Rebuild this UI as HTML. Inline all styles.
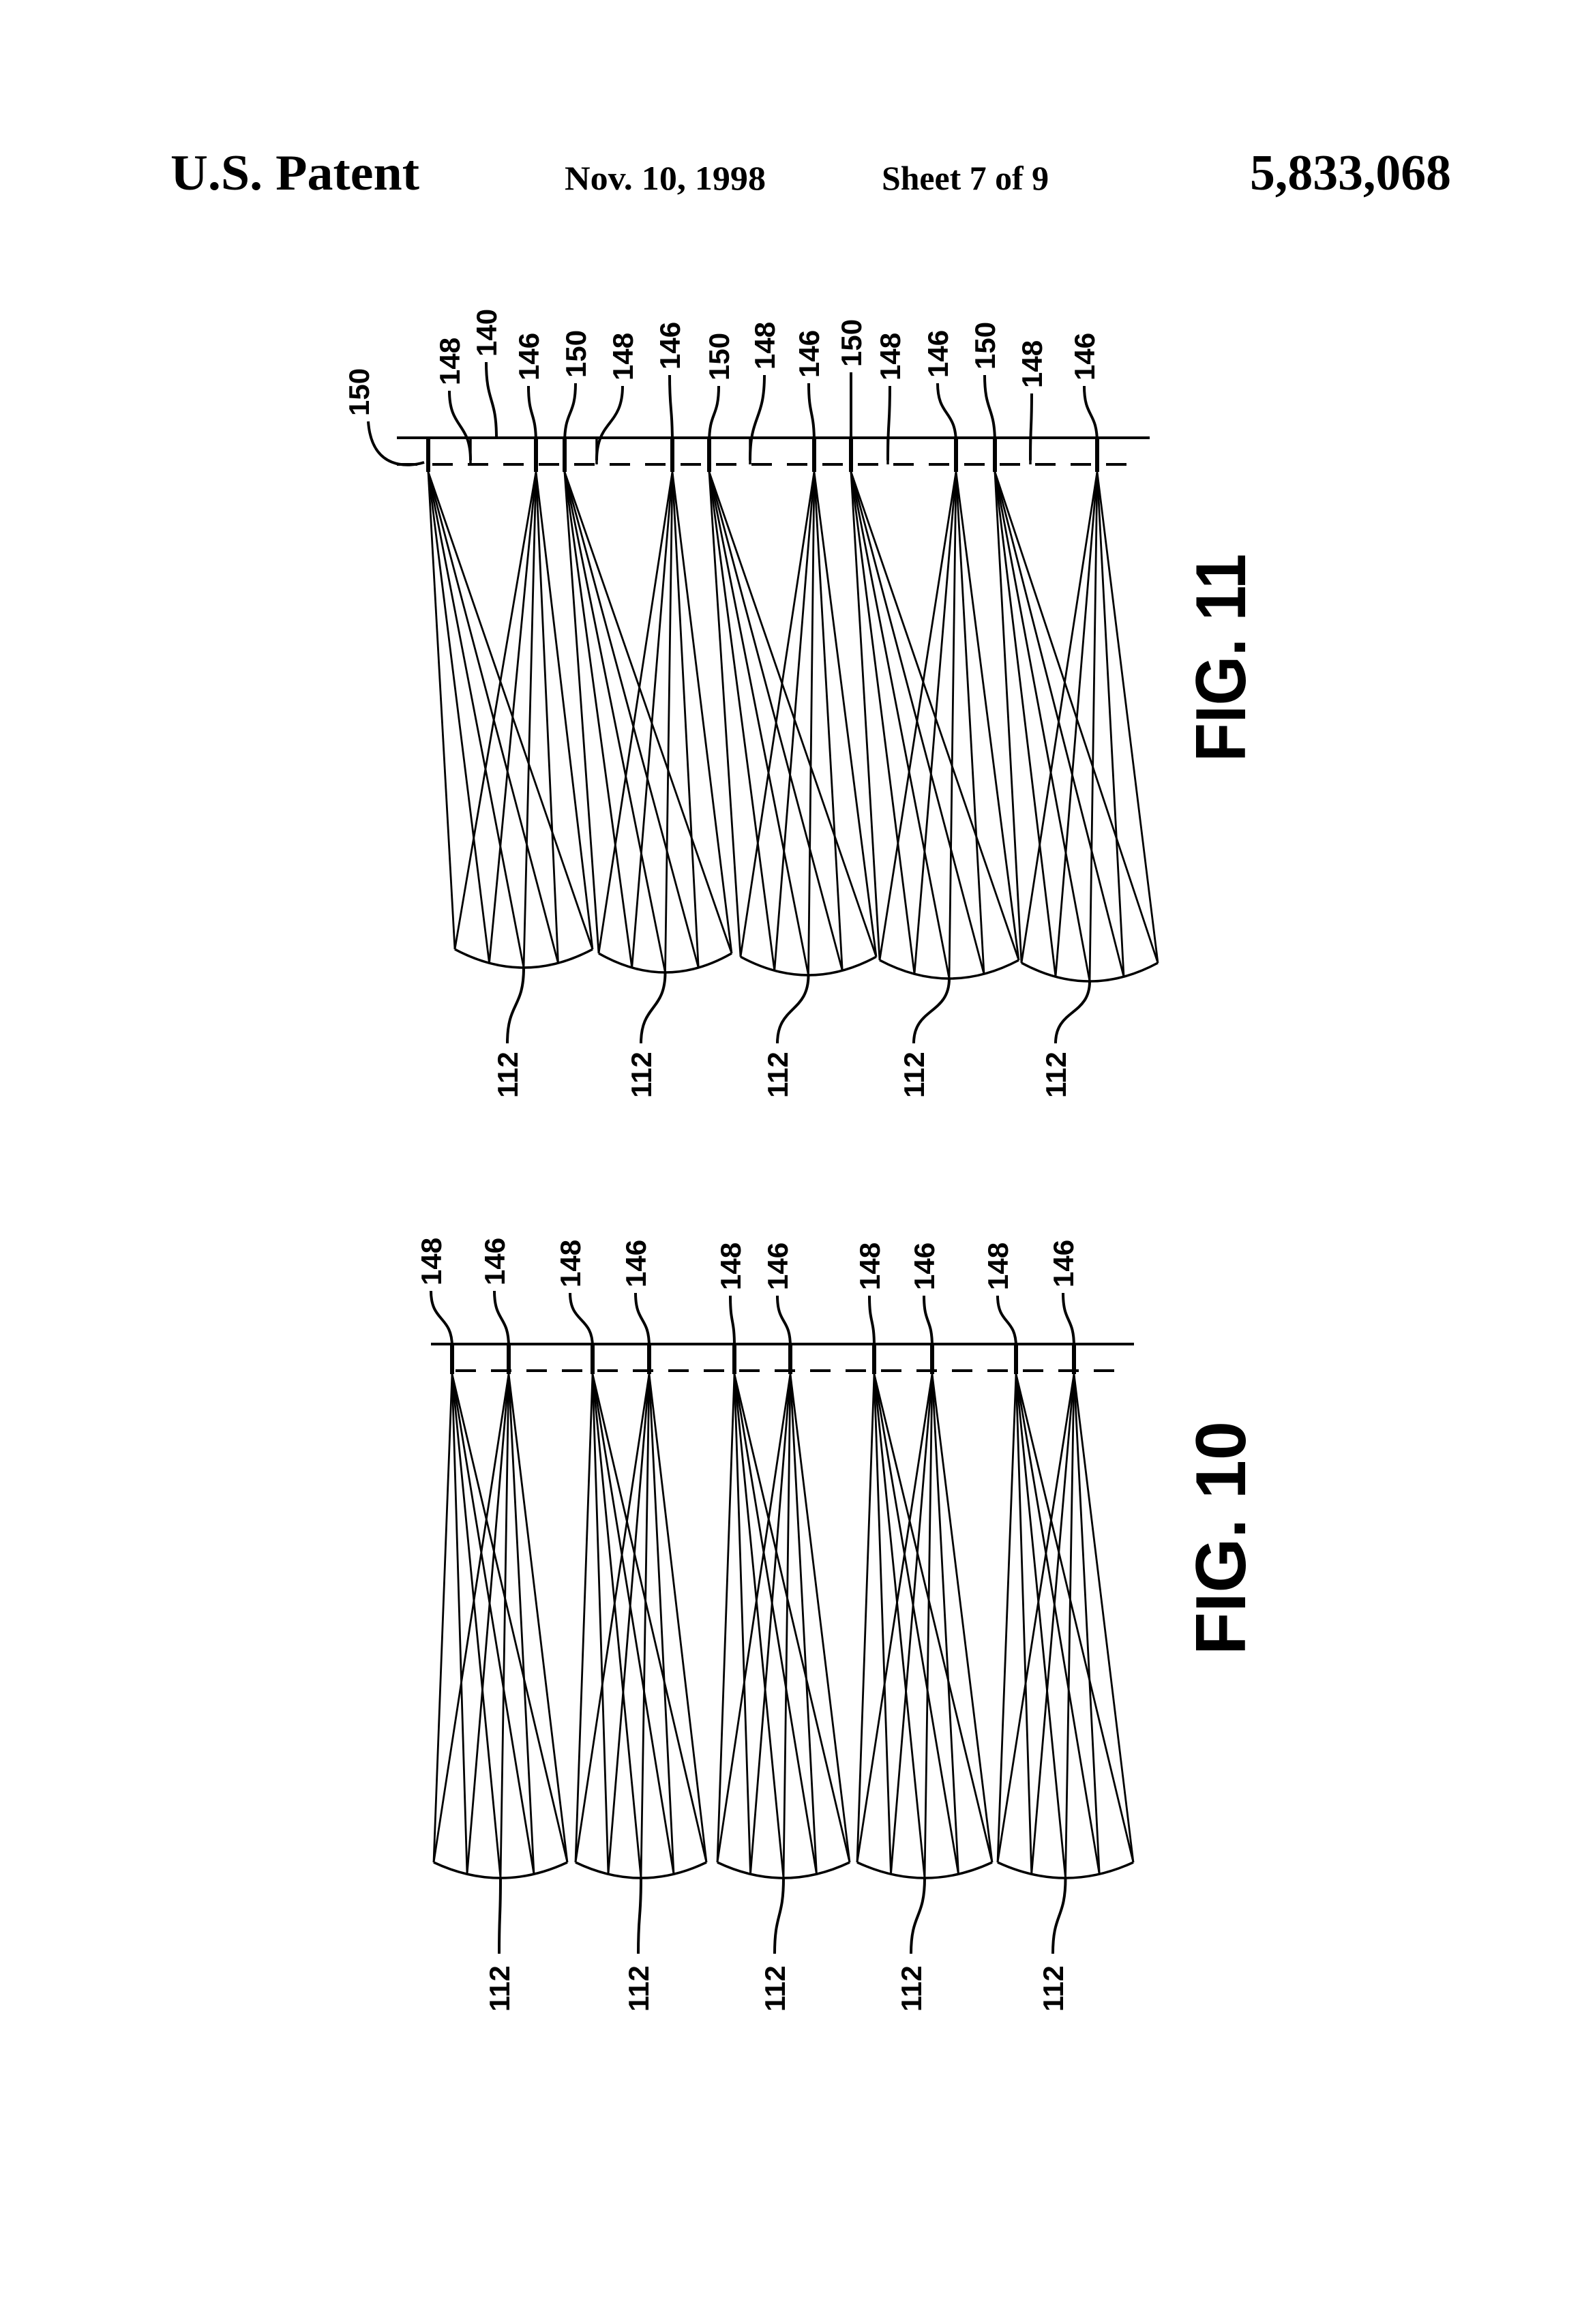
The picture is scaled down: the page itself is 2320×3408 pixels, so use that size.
<!DOCTYPE html>
<html><head><meta charset="utf-8"><style>
html,body{margin:0;padding:0;background:#fff;}
svg{display:block;}
.h{font-family:"Liberation Serif",serif;font-weight:bold;fill:#000;}
.l{font-family:"Liberation Sans",sans-serif;font-weight:bold;font-size:42px;fill:#000;}
.f{font-family:"Liberation Sans",sans-serif;font-weight:bold;font-size:104px;fill:#000;}
</style></head><body>
<svg id="s" width="2320" height="3408" viewBox="0 0 2320 3408" xmlns="http://www.w3.org/2000/svg">
<text class="h" x="250" y="278" font-size="74" textLength="365" lengthAdjust="spacingAndGlyphs">U.S. Patent</text>
<text class="h" x="828" y="278" font-size="50" textLength="295" lengthAdjust="spacingAndGlyphs">Nov. 10, 1998</text>
<text class="h" x="1293" y="278" font-size="50" textLength="245" lengthAdjust="spacingAndGlyphs">Sheet 7 of 9</text>
<text class="h" x="1833" y="278" font-size="74" textLength="295" lengthAdjust="spacingAndGlyphs">5,833,068</text>

<text class="f" transform="translate(1826,1117) rotate(-90)" textLength="305" lengthAdjust="spacingAndGlyphs">FIG. 11</text>
<text class="f" transform="translate(1826,2427) rotate(-90)" textLength="343" lengthAdjust="spacingAndGlyphs">FIG. 10</text>

<text class="l" transform="translate(674,565) rotate(-90)">148</text>
<text class="l" transform="translate(728,523) rotate(-90)">140</text>
<text class="l" transform="translate(790,558) rotate(-90)">146</text>
<text class="l" transform="translate(859,554) rotate(-90)">150</text>
<text class="l" transform="translate(928,558) rotate(-90)">148</text>
<text class="l" transform="translate(997,542) rotate(-90)">146</text>
<text class="l" transform="translate(1069,558) rotate(-90)">150</text>
<text class="l" transform="translate(1136,542) rotate(-90)">148</text>
<text class="l" transform="translate(1201,554) rotate(-90)">146</text>
<text class="l" transform="translate(1263,538) rotate(-90)">150</text>
<text class="l" transform="translate(1320,558) rotate(-90)">148</text>
<text class="l" transform="translate(1390,554) rotate(-90)">146</text>
<text class="l" transform="translate(1459,542) rotate(-90)">150</text>
<text class="l" transform="translate(1528,569) rotate(-90)">148</text>
<text class="l" transform="translate(1605,558) rotate(-90)">146</text>
<text class="l" transform="translate(541,610) rotate(-90)">150</text>

<text class="l" transform="translate(759,1610) rotate(-90)">112</text>
<text class="l" transform="translate(955,1610) rotate(-90)">112</text>
<text class="l" transform="translate(1155,1610) rotate(-90)">112</text>
<text class="l" transform="translate(1355,1610) rotate(-90)">112</text>
<text class="l" transform="translate(1563,1610) rotate(-90)">112</text>

<text class="l" transform="translate(647,1885) rotate(-90)">148</text>
<text class="l" transform="translate(740,1885) rotate(-90)">146</text>
<text class="l" transform="translate(851,1888) rotate(-90)">148</text>
<text class="l" transform="translate(947,1888) rotate(-90)">146</text>
<text class="l" transform="translate(1086,1892) rotate(-90)">148</text>
<text class="l" transform="translate(1155,1892) rotate(-90)">146</text>
<text class="l" transform="translate(1290,1892) rotate(-90)">148</text>
<text class="l" transform="translate(1370,1892) rotate(-90)">146</text>
<text class="l" transform="translate(1478,1892) rotate(-90)">148</text>
<text class="l" transform="translate(1574,1888) rotate(-90)">146</text>

<text class="l" transform="translate(747,2950) rotate(-90)">112</text>
<text class="l" transform="translate(951,2950) rotate(-90)">112</text>
<text class="l" transform="translate(1151,2950) rotate(-90)">112</text>
<text class="l" transform="translate(1351,2950) rotate(-90)">112</text>
<text class="l" transform="translate(1559,2950) rotate(-90)">112</text>
<g id="g" stroke="#000" fill="none" stroke-width="3"></g>
</svg>
<script>
var g=document.getElementById('g');var NS='http://www.w3.org/2000/svg';
function P(d,w,dash){var p=document.createElementNS(NS,'path');p.setAttribute('d',d);if(w)p.setAttribute('stroke-width',w);if(dash)p.setAttribute('stroke-dasharray',dash);g.appendChild(p);}
function L(a,b,c,d,w){P('M'+a+' '+b+'L'+c+' '+d,w);}
function lead(x1,y1,x2,y2){var my=(y1+y2)/2;P('M'+x1+' '+y1+'C'+x1+' '+(my+5)+' '+x2+' '+(my-5)+' '+x2+' '+y2,4);}
function lens(xl,xr,yt,yb,apexes,ay){
 var xc=(xl+xr)/2;P('M'+xl+' '+yt+'Q'+xc+' '+(2*yb-yt)+' '+xr+' '+yt,3.5);
 for(var i=0;i<5;i++){var t=i/4;var x=(1-t)*(1-t)*xl+2*t*(1-t)*xc+t*t*xr;var y=(1-t)*(1-t)*yt+2*t*(1-t)*(2*yb-yt)+t*t*yt;
  for(var j=0;j<apexes.length;j++)L(apexes[j],ay,x,y,2.8);}
}
L(582,642,1686,642,4);P('M582 681L1672 681',4,'30 22');
var a150=[628,828,1040,1248,1459],a146=[786,986,1194,1402,1609];
var L11=[[667,869,1392,1419],[878,1073,1398,1426],[1086,1285,1403,1430],[1290,1494,1408,1435],[1498,1698,1412,1439]];
for(var i=0;i<5;i++){lens(L11[i][0],L11[i][1],L11[i][2],L11[i][3],[a150[i],a146[i]],692);
 L(a150[i],642,a150[i],692,6);L(a146[i],642,a146[i],692,6);}
var t148=[690,875,1100,1302,1511];t148.forEach(function(x){L(x,642,x,681,3.5);});
var lx148=[659,913,1121,1305,1513],lb148=[565,558,542,558,569];
for(var i=0;i<5;i++)lead(lx148[i],lb148[i]+8,t148[i],675);
var lx146=[775,982,1186,1375,1590],lb146=[558,542,554,554,558];
for(var i=0;i<5;i++)lead(lx146[i],lb146[i]+8,a146[i],650);
var lx150=[844,1054,1248,1444],lb150=[554,558,538,542];
for(var i=0;i<4;i++)lead(lx150[i],lb150[i]+8,a150[i+1],650);
lead(713,531,728,642);
P('M540 618C545 690 600 685 622 678',4);
var lx112=[744,940,1140,1340,1548];
for(var i=0;i<5;i++){var c=(L11[i][0]+L11[i][1])/2;lead(c,L11[i][3],lx112[i],1530);}
L(632,1971,1663,1971,4);P('M668 2010L1652 2010',4,'30 22');
var b148=[663,869,1077,1282,1490],b146=[746,952,1159,1367,1575];
var L10=[[636,832,2731,2754],[844,1036,2731,2754],[1052,1246,2731,2754],[1257,1455,2731,2754],[1463,1662,2731,2754]];
for(var i=0;i<5;i++){lens(L10[i][0],L10[i][1],L10[i][2],L10[i][3],[b148[i],b146[i]],2015);
 L(b148[i],1971,b148[i],2015,6);L(b146[i],1971,b146[i],2015,6);}
var m148=[632,836,1071,1275,1463],mb148=[1885,1888,1892,1892,1892];
var m146=[725,932,1140,1355,1559],mb146=[1885,1888,1892,1892,1888];
for(var i=0;i<5;i++){lead(m148[i],mb148[i]+8,b148[i],1975);lead(m146[i],mb146[i]+8,b146[i],1975);}
var n112=[732,936,1136,1336,1544];
for(var i=0;i<5;i++){var c=(L10[i][0]+L10[i][1])/2;lead(c,2754,n112[i],2865);}
</script>
</body></html>
